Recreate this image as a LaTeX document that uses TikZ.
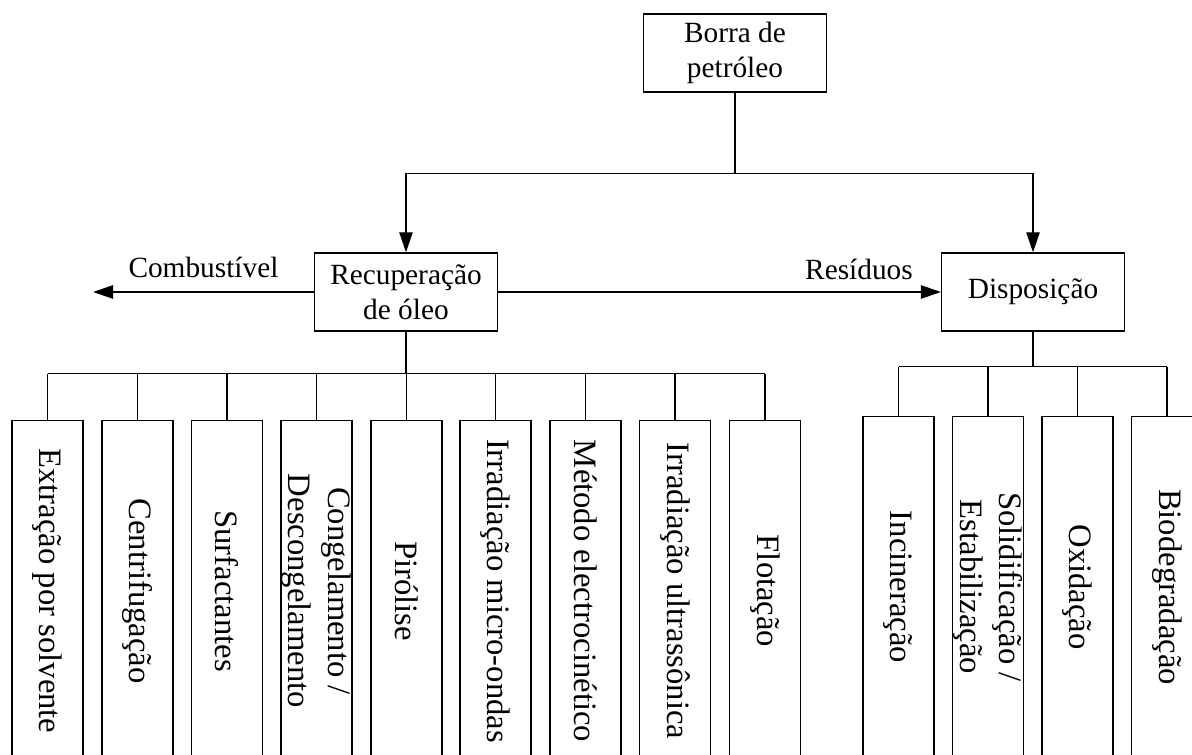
\documentclass[tikz,border=0pt]{standalone}
\usepackage{fontspec}
\setmainfont{Liberation Serif}
\usepackage{tikz}
\usetikzlibrary{arrows.meta, positioning}

\begin{document}
\begin{tikzpicture}[
    x=0.75pt, y=-0.75pt,
    line width=1.1pt,
    box/.style={draw, line width=1.1pt, minimum width=137pt, minimum height=58.5pt, align=center, inner sep=2pt, font=\fontsize{22}{26}\selectfont},
    method/.style={draw, line width=1.1pt, rotate=-90, minimum width=256pt, minimum height=53.25pt, align=center, inner sep=0pt, font=\fontsize{24.5}{29.7}\selectfont},
    arrow/.style={-{Triangle[length=15pt, width=10pt]}, line width=1.1pt},
    flowlabel/.style={font=\fontsize{22}{26}\selectfont, anchor=base},
]
    \useasboundingbox (0,0) rectangle (1192,755);
    \clip (0,0) rectangle (1192,755);

    % top level
    \node[box] (sludge) at (735, 53) {Borra de\\petróleo};
    \node[box] (recovery) at (406, 292) {Recuperação\\de óleo};
    \node[box] (disposal) at (1033, 292) {Disposição};
    \coordinate (fuel) at (93, 292);

    % recovery methods
    \node[method] (solvent) at (47.5, 591) {Extração por solvente};
    \node[method] (centrifuge) at (137.5, 591) {Centrifugação};
    \node[method] (surfactant) at (227, 591) {Surfactantes};
    \node[method] (freezethaw) at (316.5, 591) {Congelamento /\\Descongelamento};
    \node[method] (pyrolysis) at (406.5, 591) {Pirólise};
    \node[method] (microwave) at (495.5, 591) {Irradiação micro-ondas};
    \node[method] (electrokinetic) at (585.5, 591) {Método electrocinético};
    \node[method] (ultrasonic) at (675, 591) {Irradiação ultrassônica};
    \node[method] (flotation) at (765, 591) {Flotação};

    % disposal methods
    \node[method] (incineration) at (898.5, 587) {Incineração};
    \node[method] (solidification) at (988, 587) {Solidificação /\\Estabilização};
    \node[method] (oxidation) at (1077.5, 587) {Oxidação};
    \node[method] (biodegradation) at (1167, 587) {Biodegradação};

    % connectors
    \draw[arrow] (sludge.south) -- ++(0,81) -| (recovery.north);
    \draw[arrow] (sludge.south) ++(0,81) -| (disposal.north);
    \draw[arrow] (recovery.west) -- (fuel)
        node[flowlabel, midway, yshift=11pt] {Combustível};
    \draw[arrow] (recovery.east) -- (disposal.west)
        node[flowlabel, pos=0.815, yshift=9pt] {Resíduos};

    \draw (recovery.south) -- ++(0,42) coordinate (recbar);
    \draw (solvent.west |- recbar) -- (flotation.west |- recbar);
    \draw (solvent.west) -- (solvent.west |- recbar);
    \draw (centrifuge.west) -- (centrifuge.west |- recbar);
    \draw (surfactant.west) -- (surfactant.west |- recbar);
    \draw (freezethaw.west) -- (freezethaw.west |- recbar);
    \draw (pyrolysis.west) -- (pyrolysis.west |- recbar);
    \draw (microwave.west) -- (microwave.west |- recbar);
    \draw (electrokinetic.west) -- (electrokinetic.west |- recbar);
    \draw (ultrasonic.west) -- (ultrasonic.west |- recbar);
    \draw (flotation.west) -- (flotation.west |- recbar);

    \draw (disposal.south) -- ++(0,35) coordinate (dispbar);
    \draw (incineration.west |- dispbar) -- (biodegradation.west |- dispbar);
    \draw (incineration.west) -- (incineration.west |- dispbar);
    \draw (solidification.west) -- (solidification.west |- dispbar);
    \draw (oxidation.west) -- (oxidation.west |- dispbar);
    \draw (biodegradation.west) -- (biodegradation.west |- dispbar);
\end{tikzpicture}
\end{document}
